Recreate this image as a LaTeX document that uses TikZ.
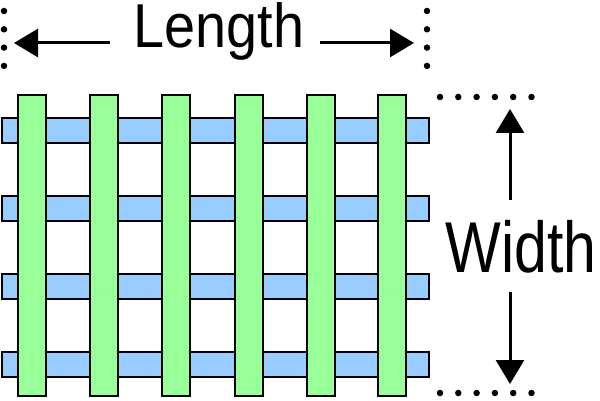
\documentclass[tikz,border=0pt]{standalone}
\usepackage{fontspec}
\setmainfont{Liberation Sans}
\usetikzlibrary{arrows.meta}
\definecolor{weft}{HTML}{99CCFF}
\definecolor{warp}{HTML}{99FF99}
\begin{document}
\begin{tikzpicture}[x=1pt,y=-1pt,
  weftbar/.style={draw=black,line width=2.8pt,fill=weft},
  warpbar/.style={draw=black,line width=2.8pt,fill=warp},
  dotline/.style={line width=6.5pt,line cap=round,dash pattern=on 0pt off 18.3pt},
  dimarrow/.style={line width=3pt,-{Triangle[length=24pt,width=28pt]}},
  lbl/.style={inner sep=0pt,anchor=base,text=black}]
\useasboundingbox (0,0) rectangle (600,401);
% weft (blue) bars
\foreach \i/\y in {1/118,2/196,3/274,4/352}
  \draw[weftbar] (2,\y) rectangle (429,\y+25);
% warp (green) bars
\foreach \i/\x in {1/18,2/90,3/162,4/235,5/307,6/378}
  \draw[warpbar] (\x,95) rectangle (\x+28,396);
% dotted guides
\draw[dotline] (4,11) -- (4,67);
\draw[dotline] (427,11) -- (427,67);
\draw[dotline] (440,97) -- (533,97);
\draw[dotline] (440,393) -- (533,393);
% labels
\node[lbl,font=\fontsize{62}{70}\selectfont,xscale=0.9] (len) at (219,48) {Length};
\node[lbl,font=\fontsize{72}{80}\selectfont,xscale=0.82] (wid) at (521,272) {Width};
% arrow coordinates
\coordinate (lA) at (110,43);
\coordinate (lB) at (14,43);
\coordinate (rA) at (320,43);
\coordinate (rB) at (414,43);
\coordinate (uA) at (510,200);
\coordinate (uB) at (510,109);
\coordinate (dA) at (510,292);
\coordinate (dB) at (510,384);
\draw[dimarrow] (lA) -- (lB);
\draw[dimarrow] (rA) -- (rB);
\draw[dimarrow] (uA) -- (uB);
\draw[dimarrow] (dA) -- (dB);
\end{tikzpicture}
\end{document}
